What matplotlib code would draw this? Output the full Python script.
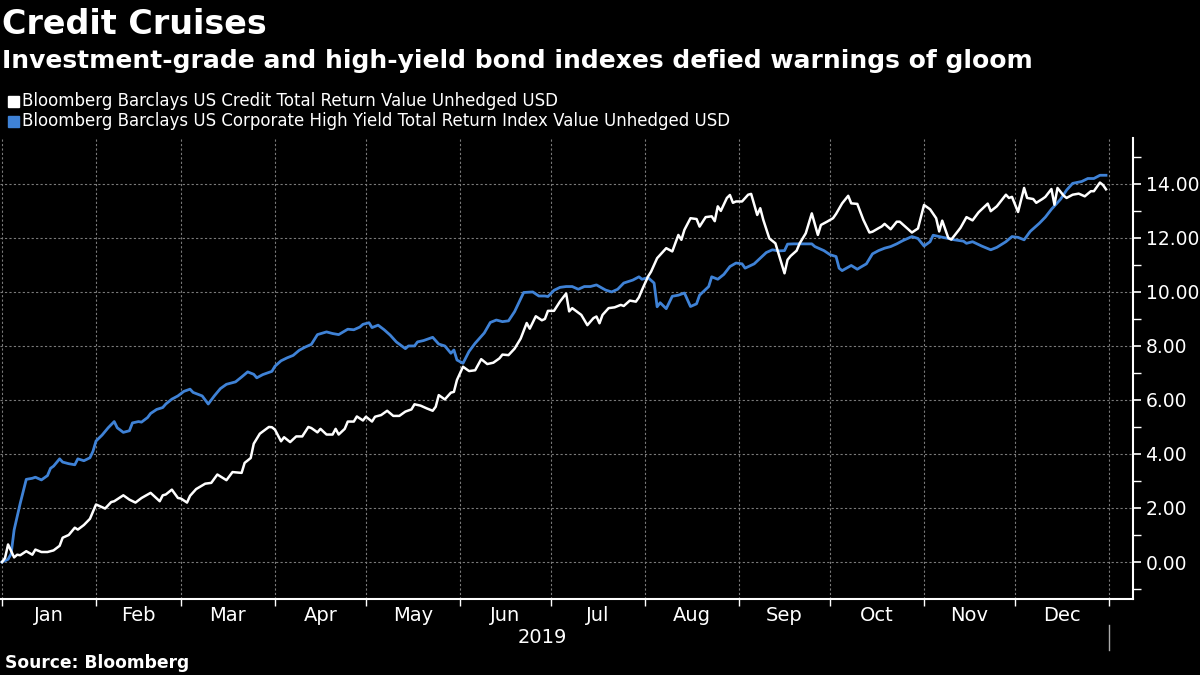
import matplotlib
matplotlib.use("Agg")
import matplotlib.pyplot as plt
from matplotlib.patches import Rectangle
import pandas as pd

# ---- data (day offsets from 2019-01-01, total return %) ----
credit_days = [0, 1, 2, 4, 5, 6, 8, 10, 11, 13, 15, 17, 19, 20, 22, 24, 25, 27, 29,
               31, 33, 34, 36, 37, 40, 42, 44, 46, 49, 52, 53, 54, 56, 58,
               59, 61, 62, 64, 67, 69, 71, 74, 76, 79, 80, 82, 83, 85, 88, 89,
               90, 92, 93, 95, 97, 99, 101, 102, 104, 105, 107, 109, 110, 111, 113, 114, 116, 117, 119,
               120, 122, 123, 125, 127, 129, 131, 133, 135, 136, 138, 140, 142, 143, 144, 146, 148, 149, 150,
               152, 154, 156, 158, 160, 162, 164, 165, 167, 169, 171, 173, 174, 176, 178, 179, 180,
               182, 184, 186, 187, 188, 191, 193, 195, 196, 197, 198, 200, 202, 204, 205, 207, 209, 210, 211,
               213, 214, 216, 219, 221, 223, 224, 225, 227, 229, 230, 232, 234, 235, 236, 237, 239, 240, 241, 242,
               244, 246, 247, 249, 250, 251, 253, 255, 256, 258, 259, 260, 262, 263, 265, 267, 269, 270, 272,
               274, 275, 277, 279, 280, 282, 284, 286, 287, 289, 290, 291, 293, 295, 296, 300, 302,
               304, 306, 308, 309, 310, 312, 313, 316, 318, 320, 322, 325, 326, 328, 331, 332, 333,
               335, 337, 338, 340, 341, 343, 344, 346, 347, 348, 350, 351, 353, 355, 357, 359, 360, 362, 363, 364]
credit_vals = [0.00, 0.15, 0.65, 0.17, 0.27, 0.25, 0.40, 0.27, 0.46, 0.37, 0.37, 0.43, 0.60, 0.90, 1.00, 1.27, 1.20, 1.37, 1.60,
               2.13, 2.03, 1.98, 2.22, 2.25, 2.47, 2.31, 2.20, 2.37, 2.56, 2.25, 2.47, 2.50, 2.68, 2.37,
               2.35, 2.20, 2.45, 2.70, 2.90, 2.93, 3.24, 3.03, 3.33, 3.30, 3.67, 3.85, 4.38, 4.75, 5.00, 4.99,
               4.90, 4.47, 4.62, 4.44, 4.65, 4.65, 5.00, 4.96, 4.80, 4.93, 4.72, 4.72, 4.93, 4.72, 4.93, 5.20, 5.20, 5.39, 5.24,
               5.38, 5.20, 5.38, 5.44, 5.60, 5.41, 5.41, 5.57, 5.65, 5.84, 5.79, 5.69, 5.60, 5.75, 6.18, 6.02, 6.27, 6.30, 6.74,
               7.23, 7.07, 7.10, 7.51, 7.33, 7.38, 7.54, 7.68, 7.66, 7.90, 8.27, 8.85, 8.64, 9.10, 8.95, 9.00, 9.30,
               9.30, 9.65, 9.94, 9.28, 9.40, 9.15, 8.77, 9.03, 9.09, 8.84, 9.15, 9.40, 9.43, 9.52, 9.48, 9.68, 9.64, 9.80, 10.07,
               10.57, 10.75, 11.25, 11.62, 11.50, 12.11, 11.93, 12.30, 12.73, 12.70, 12.42, 12.77, 12.80, 12.62, 13.17, 13.00, 13.48, 13.59, 13.30, 13.35,
               13.35, 13.60, 13.63, 12.85, 13.10, 12.67, 11.98, 11.80, 11.43, 10.69, 11.19, 11.33, 11.53, 11.80, 12.17, 12.91, 12.11, 12.48, 12.60,
               12.73, 12.89, 13.28, 13.56, 13.28, 13.26, 12.67, 12.20, 12.23, 12.36, 12.42, 12.52, 12.32, 12.60, 12.60, 12.20, 12.35,
               13.22, 13.06, 12.73, 12.24, 12.64, 12.00, 11.94, 12.37, 12.77, 12.65, 12.95, 13.27, 12.99, 13.17, 13.60, 13.48, 13.52,
               12.96, 13.85, 13.48, 13.44, 13.30, 13.44, 13.52, 13.81, 13.23, 13.85, 13.57, 13.48, 13.60, 13.64, 13.54, 13.73, 13.73, 14.05, 13.96, 13.80]

hy_days = [0, 2, 3, 4, 6, 8, 10, 11, 13, 15, 16, 17, 19, 20, 22, 24, 25, 27, 29, 30,
           31, 33, 35, 37, 38, 40, 42, 43, 45, 46, 48, 49, 51, 53, 54, 56, 58,
           60, 62, 63, 66, 68, 70, 72, 74, 77, 79, 81, 83, 84, 86, 89,
           90, 92, 94, 96, 98, 100, 102, 104, 107, 109, 111, 114, 116, 118,
           119, 121, 122, 124, 126, 128, 130, 133, 134, 136, 137, 139, 142, 144, 146, 148, 149, 150,
           152, 154, 156, 159, 161, 163, 165, 167, 169, 172, 175, 177, 179, 180,
           182, 184, 186, 188, 190, 192, 194, 196, 199, 201, 203, 205, 208, 210, 211,
           213, 215, 216, 217, 219, 221, 223, 225, 227, 229, 230, 233, 234, 236, 238, 240, 242,
           244, 245, 248, 250, 252, 254, 256, 258, 259, 261, 264, 267, 268, 271,
           273, 275, 276, 277, 280, 282, 283, 285, 287, 289, 291, 293, 295, 297, 300, 302,
           304, 306, 307, 309, 312, 314, 317, 318, 320, 323, 326, 328, 331, 333,
           335, 337, 339, 342, 344, 346, 349, 351, 353, 356, 358, 360, 362, 364]
hy_vals = [0.00, 0.10, 0.30, 1.19, 2.17, 3.06, 3.10, 3.14, 3.04, 3.20, 3.47, 3.55, 3.82, 3.70, 3.64, 3.60, 3.82, 3.75, 3.86, 4.10,
           4.48, 4.70, 4.97, 5.20, 4.97, 4.80, 4.86, 5.15, 5.20, 5.18, 5.35, 5.50, 5.65, 5.72, 5.85, 6.03, 6.15,
           6.32, 6.40, 6.28, 6.15, 5.85, 6.15, 6.42, 6.58, 6.67, 6.85, 7.04, 6.95, 6.82, 6.94, 7.06,
           7.25, 7.45, 7.56, 7.65, 7.84, 7.96, 8.06, 8.42, 8.52, 8.46, 8.42, 8.62, 8.60, 8.70,
           8.80, 8.86, 8.68, 8.77, 8.60, 8.40, 8.15, 7.90, 8.00, 8.00, 8.15, 8.20, 8.32, 8.07, 8.00, 7.73, 7.85, 7.48,
           7.36, 7.80, 8.10, 8.48, 8.87, 8.96, 8.90, 8.93, 9.27, 9.98, 10.00, 9.85, 9.85, 9.83,
           10.06, 10.17, 10.20, 10.20, 10.10, 10.20, 10.20, 10.26, 10.07, 10.00, 10.10, 10.33, 10.44, 10.56, 10.47,
           10.53, 10.33, 9.45, 9.60, 9.38, 9.84, 9.88, 9.96, 9.46, 9.56, 9.88, 10.20, 10.56, 10.47, 10.65, 10.94, 11.07,
           11.04, 10.88, 11.04, 11.25, 11.46, 11.56, 11.52, 11.53, 11.77, 11.78, 11.78, 11.78, 11.68, 11.53,
           11.38, 11.31, 10.88, 10.79, 10.98, 10.84, 10.91, 11.04, 11.41, 11.53, 11.62, 11.68, 11.78, 11.90, 12.05, 11.98,
           11.70, 11.86, 12.10, 12.05, 11.98, 11.93, 11.88, 11.80, 11.86, 11.70, 11.56, 11.65, 11.86, 12.05,
           12.02, 11.93, 12.24, 12.54, 12.77, 13.06, 13.43, 13.77, 14.02, 14.09, 14.20, 14.20, 14.32, 14.32]

months = ["Jan", "Feb", "Mar", "Apr", "May", "Jun", "Jul", "Aug", "Sep", "Oct", "Nov", "Dec"]
y_ticks = [0, 2, 4, 6, 8, 10, 12, 14]
credit_name = "Bloomberg Barclays US Credit Total Return Value Unhedged USD"
hy_name = "Bloomberg Barclays US Corporate High Yield Total Return Index Value Unhedged USD"
title = "Credit Cruises"
subtitle = "Investment-grade and high-yield bond indexes defied warnings of gloom"
source = "Source: Bloomberg"
year_label = "2019"

base = pd.Timestamp("2019-01-01")
credit_dates = base + pd.to_timedelta(credit_days, unit="D")
hy_dates = base + pd.to_timedelta(hy_days, unit="D")

WHITE = "#ffffff"
BLUE = "#3f82d6"
GRID = "#7a7a7a"

plt.rcParams["font.family"] = ["DejaVu Sans"]
fig = plt.figure(figsize=(12, 6.75), dpi=100, facecolor="black")
ax = fig.add_axes([0.0, 1 - 599 / 675, 1133 / 1200, (599 - 138) / 675])
ax.set_facecolor("black")

ax.plot(hy_dates, hy_vals, color=BLUE, lw=2.0, zorder=3, solid_joinstyle="round")
ax.plot(credit_dates, credit_vals, color=WHITE, lw=1.8, zorder=4, solid_joinstyle="round")

# limits
x0 = base - pd.Timedelta(days=0.66)
x1 = pd.Timestamp("2020-01-01") + pd.Timedelta(days=7.9)
ax.set_xlim(x0, x1)
ax.set_ylim(-1.37, 15.7)

# x ticks
month_starts = pd.date_range("2019-01-01", "2020-01-01", freq="MS")
ax.set_xticks(month_starts)
ax.set_xticklabels([])
mids = [month_starts[i] + (month_starts[i + 1] - month_starts[i]) / 2 for i in range(12)]
ax.set_xticks(mids, minor=True)
ax.set_xticklabels(months, minor=True)
ax.tick_params(axis="x", which="major", length=5, width=1, color=WHITE, direction="out")
ax.tick_params(axis="x", which="minor", length=0, labelsize=14, labelcolor=WHITE, pad=5)

# y ticks on right
ax.yaxis.tick_right()
ax.set_yticks(y_ticks)
ax.set_yticklabels([f"{v:.2f}" for v in y_ticks])
ax.set_yticks([-1] + [v + 1 for v in y_ticks], minor=True)
ax.tick_params(axis="y", which="major", length=6, width=1.2, color=WHITE,
               labelsize=13.5, labelcolor=WHITE, pad=3)
ax.tick_params(axis="y", which="minor", length=6, width=1, color=WHITE)

# grid
ax.grid(True, which="major", axis="both", color=GRID, ls=(0, (2, 2)), lw=0.8)

for side in ["top", "left"]:
    ax.spines[side].set_visible(False)
ax.spines["bottom"].set_color(WHITE)
ax.spines["right"].set_color(WHITE)
ax.spines["bottom"].set_linewidth(1.5)
ax.spines["right"].set_linewidth(1.5)

# year label and separator
trans = ax.get_xaxis_transform()
ax.text(pd.Timestamp("2019-07-01") - pd.Timedelta(days=3), -0.083, year_label, transform=trans,
        ha="center", va="center", color=WHITE, fontsize=14)
ax.plot([pd.Timestamp("2020-01-01")] * 2, [-0.057, -0.11], transform=trans,
        color="#aaaaaa", lw=1, clip_on=False)

# titles
fig.text(0.002, 1 - 24 / 675, title, color=WHITE, fontsize=24, fontweight="bold", va="center", ha="left")
fig.text(0.002, 1 - 61 / 675, subtitle, color=WHITE, fontsize=18, fontweight="bold", va="center", ha="left")

# legend
for i, (name, col) in enumerate([(credit_name, WHITE), (hy_name, BLUE)]):
    yc = 1 - (101 + 20 * i) / 675
    fig.patches.append(Rectangle((8 / 1200, yc - 5.5 / 675), 11 / 1200, 11 / 675,
                                 transform=fig.transFigure, color=col, figure=fig))
    fig.text(22 / 1200, yc, name, color=WHITE, fontsize=12, va="center", ha="left")

fig.text(5 / 1200, 1 - 663 / 675, source, color=WHITE, fontsize=12.3, fontweight="bold",
         va="center", ha="left")

fig.savefig("out.png", dpi=100, facecolor="black")
